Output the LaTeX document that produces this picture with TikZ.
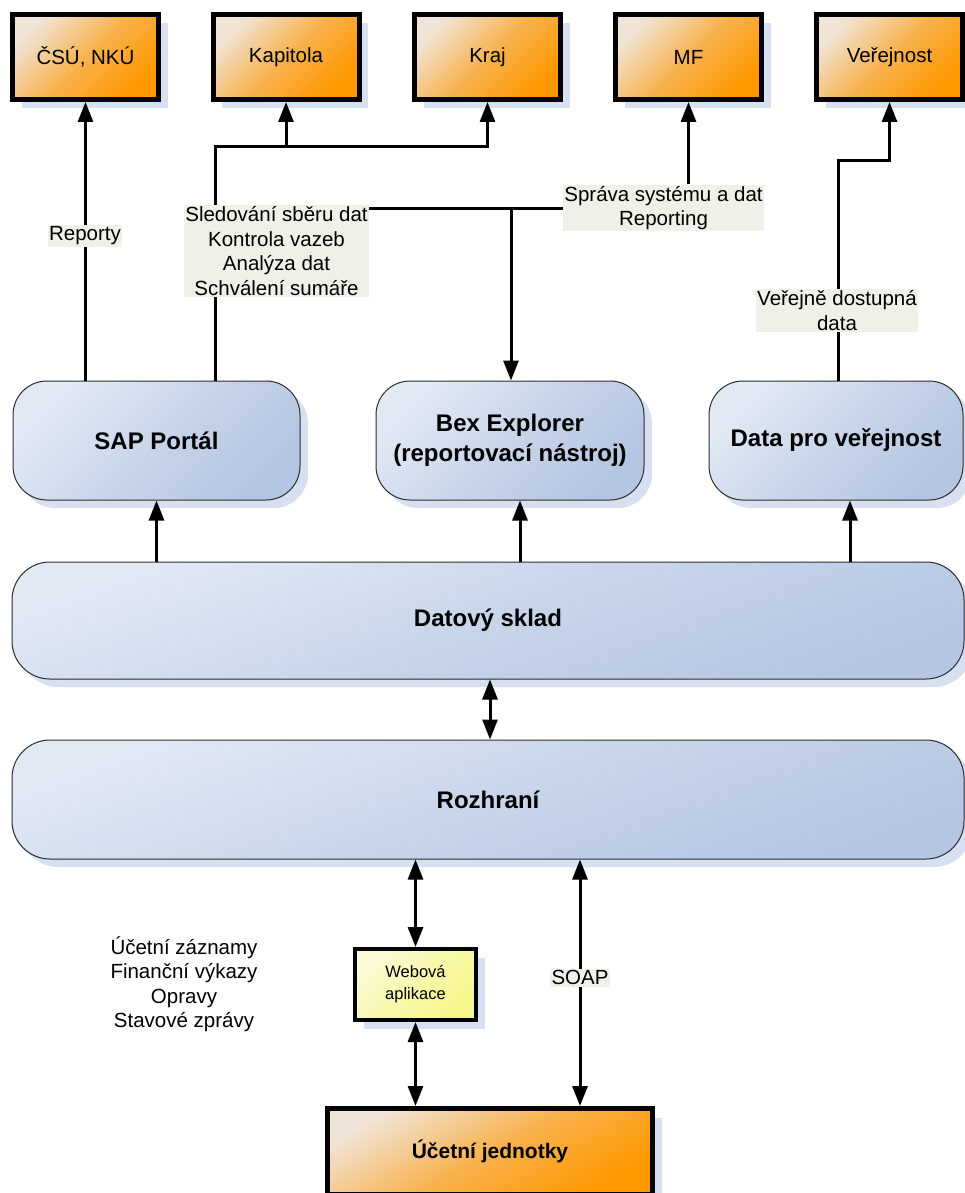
\documentclass[tikz,border=0pt]{standalone}
\usepackage{fontspec}
\setmainfont{Liberation Sans}
\usetikzlibrary{arrows.meta,shadows}
\definecolor{orA}{RGB}{240,228,214}
\definecolor{orM}{RGB}{248,178,78}
\definecolor{orB}{RGB}{255,152,0}
\definecolor{blA}{RGB}{226,233,245}
\definecolor{blM}{RGB}{200,213,234}
\definecolor{blB}{RGB}{180,198,226}
\definecolor{shd}{RGB}{214,224,240}
\definecolor{lblbg}{RGB}{240,240,232}
\definecolor{ylA}{RGB}{250,250,215}
\definecolor{ylM}{RGB}{248,248,170}
\definecolor{ylB}{RGB}{246,246,140}
\definecolor{bord}{RGB}{45,45,45}
\newcommand\fsN{\fontsize{20.5}{24.5}\selectfont}
\newcommand\fsB{\fontsize{24}{30}\selectfont\bfseries}
\pgfdeclarelayer{fg}
\pgfsetlayers{main,fg}
\begin{document}
\begin{tikzpicture}[x=1pt,y=-1pt,
  shadowed/.style={drop shadow={shadow xshift=9pt, shadow yshift=-9pt, fill=shd, opacity=1}},
  obox/.style={shadowed, draw=black, line width=5pt, top color=orA, bottom color=orB, middle color=orM, shading angle=45,
    minimum width=146pt, minimum height=85pt, inner sep=0pt, font=\fsN},
  rbox/.style={drop shadow={shadow xshift=8pt, shadow yshift=-8pt, fill=shd, opacity=1},
    draw=bord, line width=1pt, rounded corners=34pt, top color=blA, bottom color=blB, middle color=blM, shading angle=45,
    inner sep=0pt, font=\fsB, align=center, minimum height=119pt},
  lbl/.style={fill=lblbg, inner xsep=1.5pt, inner ysep=1.5pt, align=center, font=\fsN},
  ln/.style={line width=3pt},
  ar/.style={line width=3pt, -{Triangle[length=20pt,width=15pt]}},
  dar/.style={line width=3pt, {Triangle[length=20pt,width=15pt]}-{Triangle[length=20pt,width=15pt]}}]
\useasboundingbox (0,0) rectangle (965,1193);

% top target boxes
\node[obox] (csu) at (85.5,57) {ČSÚ, NKÚ};
\node[obox] (kap) at (286,57) {Kapitola};
\node[obox] (kraj) at (487.5,57) {Kraj};
\node[obox] (mf) at (688.5,57) {MF};
\node[obox] (ver) at (889.5,57) {Veřejnost};

% rounded boxes
\node[rbox, minimum width=287pt] (sap) at (156.5,440.5) {SAP Portál};
\node[rbox, minimum width=268pt] (bex) at (510,440.5) {Bex Explorer\\(reportovací nástroj)};
\node[rbox, minimum width=254pt] (dpv) at (836,440.5) {Data pro veřejnost};
\node[rbox, minimum width=952pt, minimum height=117pt, rounded corners=38pt, shading angle=20] (ds) at (488,620.5) {Datový sklad};
\node[rbox, minimum width=952pt, minimum height=119pt, rounded corners=38pt, shading angle=20] (roz) at (488,799.5) {Rozhraní};

% lower boxes
\node[shadowed, draw=black, line width=4pt, top color=ylA, bottom color=ylB, middle color=ylM, shading angle=45,
  minimum width=121pt, minimum height=71pt, inner sep=0pt, align=center,
  font=\fontsize{16.5}{22}\selectfont] (web) at (415.5,984.5) {Webová\\aplikace};
\node[obox, minimum width=325pt, minimum height=86pt, shading angle=30, font=\fontsize{21}{25}\selectfont\bfseries] (uj) at (490,1151.5) {Účetní jednotky};

% labels (foreground)
\begin{pgfonlayer}{fg}
\node[lbl] (rep) at (85,236) {Reporty};
\node[lbl] (sled) at (276.5,251) {Sledování sběru dat\\Kontrola vazeb\\Analýza dat\\Schválení sumáře};
\node[lbl] (sprava) at (663.5,208) {Správa systému a dat\\Reporting};
\node[lbl] (verd) at (837,310.5) {Veřejně dostupná\\data};
\node[align=center, font=\fsN] (ucz) at (184,984) {Účetní záznamy\\Finanční výkazy\\Opravy\\Stavové zprávy};
\end{pgfonlayer}

% helper coordinates
\coordinate (k1) at (215,147);
\coordinate (h) at (511,208);
\coordinate (v1) at (838,161);
\coordinate (xb) at (520,0);
\coordinate (xd) at (850,0);
\coordinate (xr) at (490,0);
\coordinate (xs) at (580,0);

% connectors to the top boxes
\draw[ar] (sap.north -| csu.south) -- (csu.south);
\draw[ar] (sap.north -| k1) -- (k1) -| (kraj.south);
\draw[ar] (kap.south |- k1) -- (kap.south);
\draw[ln] (sled.east |- h) -- (sprava.west |- h);
\draw[ar] (h) -- (bex.north -| h);
\draw[ar] (mf.south |- sprava.north) -- (mf.south);
\draw[ar] (dpv.north -| v1) -- (v1) -| (ver.south);

% connectors from the warehouse
\draw[ar] (ds.north -| sap.south) -- (sap.south);
\draw[ar] (ds.north -| xb) -- (bex.south -| xb);
\draw[ar] (ds.north -| xd) -- (dpv.south -| xd);
\draw[dar] (ds.south -| xr) -- (roz.north -| xr);

% connectors below the interface
\draw[dar] (roz.south -| web.north) -- (web.north);
\draw[dar] (web.south) -- (uj.north -| web.south);
\draw[dar] (roz.south -| xs) -- (uj.north -| xs) node[lbl, pos=0.48] (soap) {SOAP};
\end{tikzpicture}
\end{document}
